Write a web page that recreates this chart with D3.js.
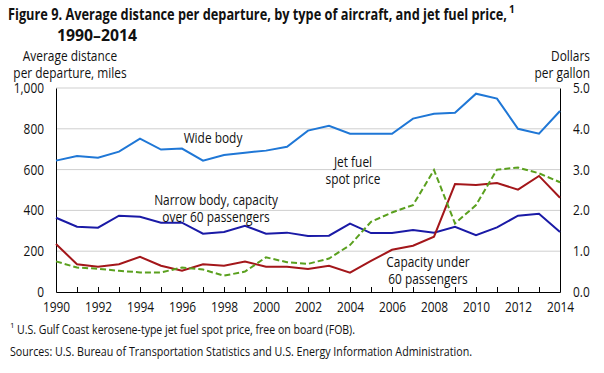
<!DOCTYPE html>
<html>
<head>
<meta charset="utf-8">
<script src="https://cdn.jsdelivr.net/npm/d3@7"></script>
<style>
  body { margin: 0; background: #fff; }
  text { font-family: "Open Sans", sans-serif; fill: #111; }
</style>
</head>
<body>
<div id="chart"></div>
<script>
// Data
const years = d3.range(1990, 2015);
const wideBody = [644, 667, 658, 688, 752, 698, 703, 644, 672, 683, 693, 712, 791, 815, 776, 776, 776, 850, 874, 879, 972, 948, 800, 776, 887];
const narrowBody = [364, 320, 315, 374, 369, 340, 340, 286, 294, 325, 286, 291, 274, 276, 335, 289, 289, 304, 291, 320, 279, 317, 374, 384, 294];
const under60 = [235, 136, 124, 136, 173, 129, 104, 136, 129, 149, 124, 124, 113, 129, 95, 152, 207, 227, 271, 529, 524, 534, 502, 569, 462];
const jetFuel = [0.75, 0.6, 0.57, 0.52, 0.48, 0.48, 0.6, 0.55, 0.4, 0.5, 0.85, 0.73, 0.69, 0.82, 1.15, 1.72, 1.95, 2.13, 2.99, 1.68, 2.13, 3.0, 3.05, 2.91, 2.69];
const leftTicks = [0, 200, 400, 600, 800, 1000];
const rightTicks = [0, 1, 2, 3, 4, 5];
const xTickLabels = d3.range(1990, 2015, 2);

const width = 604, height = 373;
const margin = { left: 56, right: 44, top: 88, bottom: 81 };
const squeeze = 0.85; // Open Sans is wider than the original's font

const svg = d3.select("#chart").append("svg")
  .attr("width", width)
  .attr("height", height);

const x = d3.scaleLinear().domain([1990, 2014]).range([margin.left, width - margin.right]);
const yL = d3.scaleLinear().domain([0, 1000]).range([height - margin.bottom, margin.top]);
const yR = d3.scaleLinear().domain([0, 5]).range([height - margin.bottom, margin.top]);

// squeeze a text to a width (or by the default factor)
function fit(sel, w) {
  sel.each(function () {
    const len = this.getComputedTextLength();
    d3.select(this).attr("textLength", w || len * squeeze).attr("lengthAdjust", "spacingAndGlyphs");
  });
  return sel;
}

// Title
svg.append("text").attr("x", 8).attr("y", 20)
  .style("font-size", "16px").style("font-weight", "bold")
  .text("Figure 9. Average distance per departure, by type of aircraft, and jet fuel price,")
  .call(fit, 499);
svg.append("text").attr("x", 509).attr("y", 13)
  .style("font-size", "10px").style("font-weight", "bold").text("1");
svg.append("text").attr("x", 57).attr("y", 41)
  .style("font-size", "16px").style("font-weight", "bold").text("1990–2014")
  .call(fit, 80);

// Axis titles
function txt(t, px, py, anchor, size) {
  return svg.append("text").attr("x", px).attr("y", py).attr("text-anchor", anchor)
    .style("font-size", size + "px").text(t).call(fit);
}
txt("Average distance", 70, 61, "middle", 14);
txt("per departure, miles", 70, 78, "middle", 14);
txt("Dollars", 590, 61, "end", 14);
txt("per gallon", 590, 78, "end", 14);

// Gridlines
svg.append("g").selectAll("line")
  .data(leftTicks.filter(d => d > 0))
  .join("line")
  .attr("x1", x(1990)).attr("x2", x(2014))
  .attr("y1", d => yL(d)).attr("y2", d => yL(d))
  .attr("stroke", "#cfcfcf").attr("stroke-width", 1);

// Left axis labels
svg.append("g").attr("transform", `translate(${x(1990)},0)`)
  .call(d3.axisLeft(yL).tickValues(leftTicks).tickSize(0).tickPadding(12).tickFormat(d3.format(",")))
  .call(g => g.select(".domain").attr("stroke", "#000"))
  .call(g => g.selectAll("text").style("font-size", "14px").attr("fill", "#111").call(fit));

// Right axis labels
svg.append("g").attr("transform", `translate(${x(2014)},0)`)
  .call(d3.axisRight(yR).tickValues(rightTicks).tickSize(0).tickPadding(13).tickFormat(d3.format(".1f")))
  .call(g => g.select(".domain").attr("stroke", "#000"))
  .call(g => g.selectAll("text").style("font-size", "14px").attr("fill", "#111").call(fit));

// Bottom axis, ticks pointing up
svg.append("g").attr("transform", `translate(0,${yL(0)})`)
  .call(d3.axisBottom(x).tickValues(years).tickSizeInner(-5).tickSizeOuter(0).tickPadding(6)
    .tickFormat(d => xTickLabels.includes(d) ? d : ""))
  .call(g => g.select(".domain").attr("stroke", "#000"))
  .call(g => g.selectAll("line").attr("stroke", "#000"))
  .call(g => g.selectAll("text").attr("dy", "1.0em").style("font-size", "14px").attr("fill", "#111")
    .filter(function () { return this.textContent !== ""; }).call(fit));

// Lines
const lineL = d3.line().x((d, i) => x(years[i])).y(d => yL(d));
const lineR = d3.line().x((d, i) => x(years[i])).y(d => yR(d));

svg.append("path").datum(wideBody).attr("d", lineL)
  .attr("fill", "none").attr("stroke", "#1f77d6").attr("stroke-width", 2);
svg.append("path").datum(narrowBody).attr("d", lineL)
  .attr("fill", "none").attr("stroke", "#1a1aa6").attr("stroke-width", 2);
svg.append("path").datum(under60).attr("d", lineL)
  .attr("fill", "none").attr("stroke", "#a3161a").attr("stroke-width", 2);
svg.append("path").datum(jetFuel).attr("d", lineR)
  .attr("fill", "none").attr("stroke", "#5aa01e").attr("stroke-width", 2)
  .attr("stroke-dasharray", "6,3");

// Series labels
function label(lines, cx, y0) {
  lines.forEach((t, i) => txt(t, cx, y0 + i * 17, "middle", 14));
}
label(["Wide body"], 213, 143);
label(["Narrow body, capacity", "over 60 passengers"], 216, 205);
label(["Jet fuel", "spot price"], 353, 167);
label(["Capacity under", "60 passengers"], 428, 267);

// Notes
svg.append("text").attr("x", 10).attr("y", 328).style("font-size", "8px").text("1");
svg.append("text").attr("x", 17).attr("y", 334).style("font-size", "13px")
  .text("U.S. Gulf Coast kerosene-type jet fuel spot price, free on board (FOB).")
  .call(fit, 338);
svg.append("text").attr("x", 10).attr("y", 356).style("font-size", "13px")
  .text("Sources: U.S. Bureau of Transportation Statistics and U.S. Energy Information Administration.")
  .call(fit, 462);
</script>
</body>
</html>
